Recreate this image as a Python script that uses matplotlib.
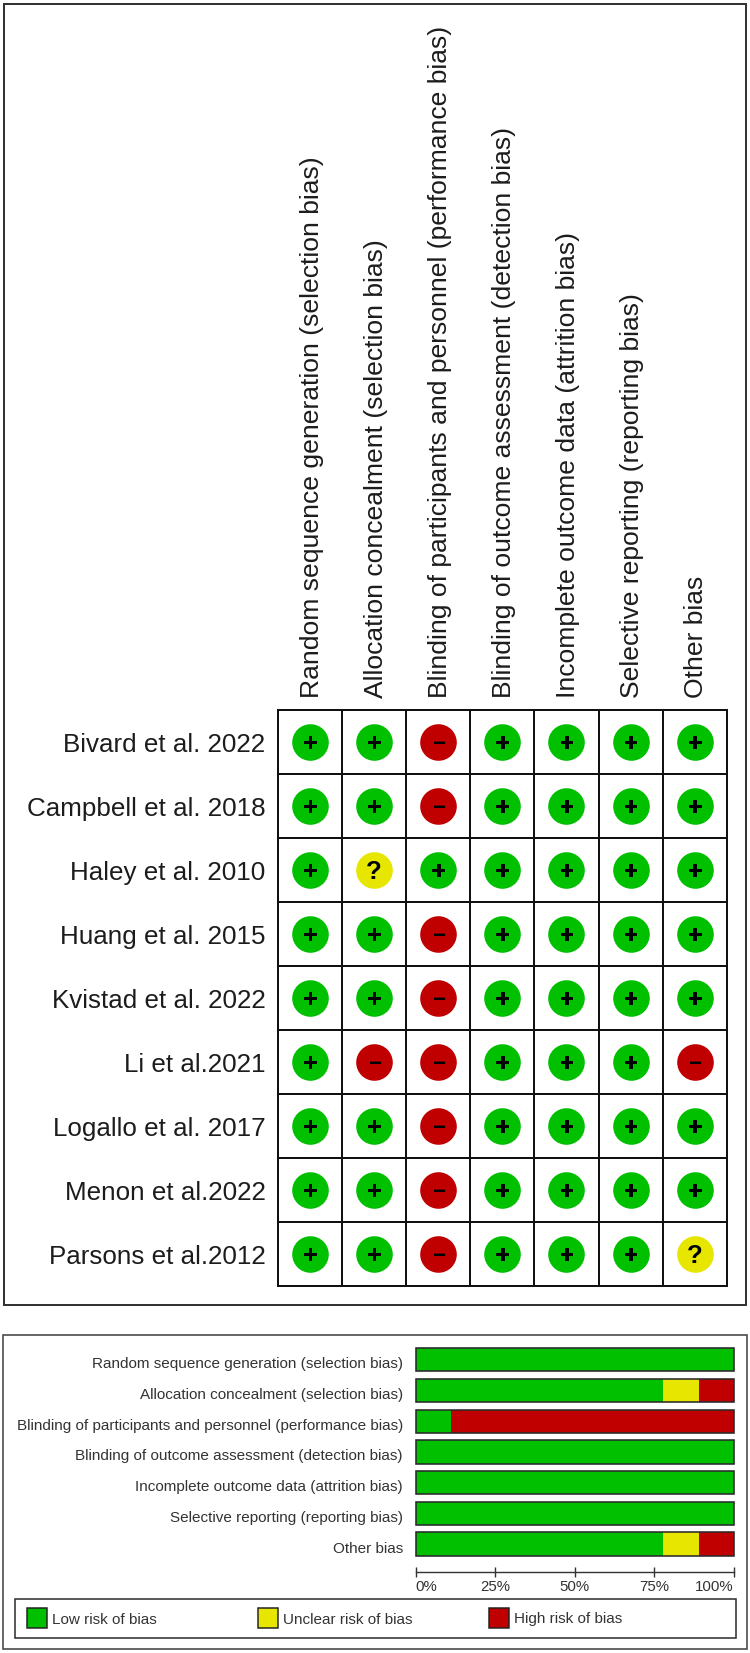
import matplotlib
matplotlib.use("Agg")
import matplotlib.pyplot as plt
import matplotlib.patheffects as pe
from matplotlib.patches import Rectangle
from matplotlib.transforms import Affine2D

plt.rcParams['font.family'] = ['Liberation Sans', 'DejaVu Sans']

domains = ["Random sequence generation (selection bias)",
           "Allocation concealment (selection bias)",
           "Blinding of participants and personnel (performance bias)",
           "Blinding of outcome assessment (detection bias)",
           "Incomplete outcome data (attrition bias)",
           "Selective reporting (reporting bias)",
           "Other bias"]
studies = ["Bivard et al. 2022", "Campbell et al. 2018", "Haley et al. 2010",
           "Huang et al. 2015", "Kvistad et al. 2022", "Li et al.2021",
           "Logallo et al. 2017", "Menon et al.2022", "Parsons et al.2012"]
ratings = ["LLHLLLL", "LLHLLLL", "LULLLLL", "LLHLLLL", "LLHLLLL",
           "LHHLLLH", "LLHLLLL", "LLHLLLL", "LLHLLLU"]
low_pct = [100, 77.8, 11.1, 100, 100, 100, 77.8]
unclear_pct = [0, 11.1, 0, 0, 0, 0, 11.1]
high_pct = [0, 11.1, 88.9, 0, 0, 0, 11.1]
pct_ticks = [0, 25, 50, 75, 100]
pct_labels = ["0%", "25%", "50%", "75%", "100%"]
legend_labels = ["Low risk of bias", "Unclear risk of bias", "High risk of bias"]

GREEN, YELLOW, RED = "#00c000", "#e6e600", "#c00000"
COLORS = {"L": GREEN, "U": YELLOW, "H": RED}
SYMBOLS = {"L": "+", "U": "?", "H": "\u2212"}

W, H = 750, 1653
fig = plt.figure(figsize=(W / 100, H / 100), dpi=100, facecolor="white")
PX = 0.72


def axes_px(x0, y0, x1, y1):
    return fig.add_axes([x0 / W, 1 - y1 / H, (x1 - x0) / W, (y1 - y0) / H])


def frame(x0, y0, x1, y1, lw, color, face="none", z=0):
    fig.add_artist(Rectangle((x0 / W, 1 - y1 / H), (x1 - x0) / W, (y1 - y0) / H,
                             transform=fig.transFigure, fill=face != "none",
                             facecolor=face, edgecolor=color, linewidth=lw * PX, zorder=z))


def shift(label, dx_px, dy_px):
    label.set_transform(label.get_transform() + Affine2D().translate(dx_px, dy_px))


frame(3.5, 3.5, 745.7, 1305, 2, "#333333")
frame(2.7, 1335.3, 746.7, 1649, 1.6, "#444444")

# ---- summary grid
ax = axes_px(278, 710, 726.7, 1286)
ax.set_xlim(0, len(domains))
ax.set_ylim(len(studies), 0)
ax.set_xticks([i + .5 for i in range(len(domains))])
ax.set_yticks([i + .5 for i in range(len(studies))])
ax.set_xticklabels(domains, rotation=90, fontsize=19.05, color="#1c1c1c", ha="center", va="bottom")
ax.set_yticklabels(studies, fontsize=18.7, color="#1c1c1c", va="baseline", ha="right")
ax.tick_params(axis="both", length=0, pad=9, top=True, labeltop=True, bottom=False, labelbottom=False)
for lab in ax.get_yticklabels():
    shift(lab, 0, -9.7)
for lab in ax.get_xticklabels():
    shift(lab, 1.8, 0)
for i in range(1, len(domains)):
    ax.axvline(i, color="#111111", lw=2 * PX)
for i in range(1, len(studies)):
    ax.axhline(i, color="#111111", lw=2 * PX)
for s in ax.spines.values():
    s.set_linewidth(2 * PX)
    s.set_color("#111111")
for r, row in enumerate(ratings):
    for c, code in enumerate(row):
        ax.scatter(c + .5, r + .5, s=(36.6 * PX) ** 2, color=COLORS[code], linewidths=0, zorder=3)
        size, dy = {"L": (17, -8), "U": (18.5, -9), "H": (16, -7.5)}[code]
        t = ax.annotate(SYMBOLS[code], (c + .5, r + .5), xytext=(0, dy), textcoords="offset pixels",
                        ha="center", va="baseline", fontsize=size, fontweight="bold",
                        color="black", zorder=4)
        if code == "L":
            t.set_path_effects([pe.withStroke(linewidth=0.7, foreground="black")])

# ---- percentage bars
SP = 30.73
top_px, bot_px, first_c = 1340.0, 1572.3, 1359.7
bx = axes_px(415.7, top_px, 734, bot_px)
bx.set_xlim(0, 100)
bx.set_ylim((bot_px - first_c) / SP, (top_px - first_c) / SP)
ypos = list(range(len(domains)))
left2 = [a + b for a, b in zip(low_pct, unclear_pct)]
bh = 23.3 / SP
bx.barh(ypos, low_pct, height=bh, color=GREEN, linewidth=0)
bx.barh(ypos, unclear_pct, left=low_pct, height=bh, color=YELLOW, linewidth=0)
bx.barh(ypos, high_pct, left=left2, height=bh, color=RED, linewidth=0)
bx.barh(ypos, [a + b for a, b in zip(left2, high_pct)], height=bh, fill=False,
        edgecolor="#2a2a2a", linewidth=1.6 * PX, zorder=4, clip_on=False)
for s in ("top", "left", "right"):
    bx.spines[s].set_visible(False)
bx.spines["bottom"].set_color("#333333")
bx.spines["bottom"].set_linewidth(1.4 * PX)
bx.set_yticks(ypos)
bx.set_yticklabels(domains, fontsize=11.0, color="#333333", va="baseline", ha="right")
bx.tick_params(axis="y", length=0, pad=9.3)
for lab in bx.get_yticklabels():
    shift(lab, 0, -8.5)
bx.set_xticks(pct_ticks)
bx.set_xticklabels(pct_labels, fontsize=10.8, color="#333333", va="baseline")
bx.tick_params(axis="x", direction="inout", length=10.7 * PX, width=1.4 * PX, color="#333333", pad=0)
xlabs = bx.get_xticklabels()
xlabs[0].set_ha("left")
xlabs[-1].set_ha("right")
for lab in xlabs:
    shift(lab, 0, -13)

# ---- legend
frame(14.7, 1599.3, 735.7, 1638, 1.6, "#333333")
for x, col, text in zip((26.7, 258, 489), (GREEN, YELLOW, RED), legend_labels):
    frame(x, 1608, x + 20.3, 1628.3, 1.5, "#222222", face=col, z=2)
    fig.text((x + 25) / W, 1 - 1623.5 / H, text, fontsize=11, color="#333333",
             ha="left", va="baseline")

fig.savefig("out.png", dpi=100, facecolor="white")
